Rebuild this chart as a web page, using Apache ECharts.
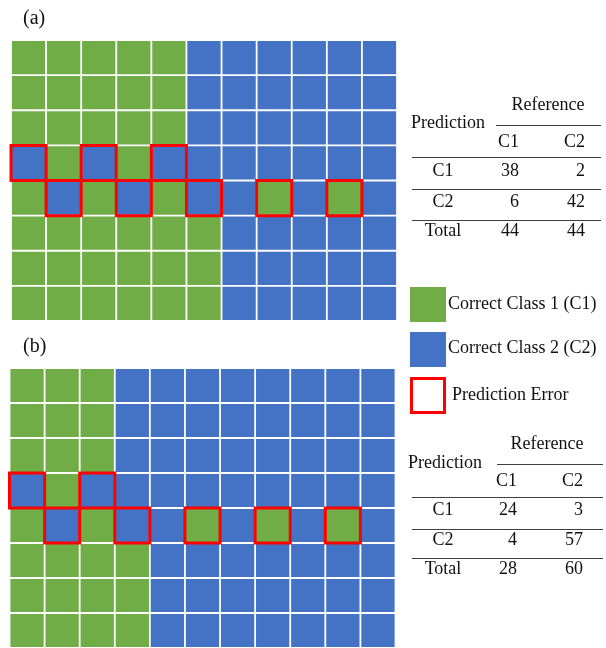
<!DOCTYPE html>
<html>
<head>
<meta charset="utf-8">
<script src="https://cdn.jsdelivr.net/npm/echarts@6/dist/echarts.min.js"></script>
<style>
html,body{margin:0;padding:0;background:#fff;}
#chart{width:606px;height:648px;}
</style>
</head>
<body>
<div id="chart"></div>
<script>
// ---- data ----
// 1 = Class 1 (green), 2 = Class 2 (blue); rows top to bottom, 11 columns
const gridA = [
  [1,1,1,1,1,2,2,2,2,2,2],
  [1,1,1,1,1,2,2,2,2,2,2],
  [1,1,1,1,1,2,2,2,2,2,2],
  [2,1,2,1,2,2,2,2,2,2,2],
  [1,2,1,2,1,2,2,1,2,1,2],
  [1,1,1,1,1,1,2,2,2,2,2],
  [1,1,1,1,1,1,2,2,2,2,2],
  [1,1,1,1,1,1,2,2,2,2,2]
];
const errorsA = [[0,3],[2,3],[4,3],[1,4],[3,4],[5,4],[7,4],[9,4]];
const gridB = [
  [1,1,1,2,2,2,2,2,2,2,2],
  [1,1,1,2,2,2,2,2,2,2,2],
  [1,1,1,2,2,2,2,2,2,2,2],
  [2,1,2,2,2,2,2,2,2,2,2],
  [1,2,1,2,2,1,2,1,2,1,2],
  [1,1,1,1,2,2,2,2,2,2,2],
  [1,1,1,1,2,2,2,2,2,2,2],
  [1,1,1,1,2,2,2,2,2,2,2]
];
const errorsB = [[0,3],[2,3],[1,4],[3,4],[5,4],[7,4],[9,4]];
const tableA = [[38,2],[6,42]];
const totalsA = [44,44];
const tableB = [[24,3],[4,57]];
const totalsB = [28,60];
const colLabels = ['C1','C2'];
const rowLabels = ['C1','C2','Total'];
const legendLabels = ['Correct Class 1 (C1)','Correct Class 2 (C2)','Prediction Error'];
const panelLabels = ['(a)','(b)'];
const xCats = ['0','1','2','3','4','5','6','7','8','9','10'];
const yCats = ['0','1','2','3','4','5','6','7'];

// ---- styles ----
const GREEN = '#70AD47', BLUE = '#4472C4', RED = '#FF0000';
const FONT = '"Liberation Serif", "Times New Roman", serif';
const TXT = '#111';

function cellData(g){
  const out = [];
  g.forEach((row, r) => row.forEach((v, c) => out.push([c, r, v])));
  return out;
}
function renderCell(params, api){
  const p = api.coord([api.value(0), api.value(1)]);
  const s = api.size([1, 1]);
  const gap = 0.9;
  return {
    type: 'rect',
    shape: {x: p[0]-s[0]/2+gap, y: p[1]-s[1]/2+gap, width: s[0]-2*gap, height: s[1]-2*gap},
    style: {fill: api.value(2) === 1 ? GREEN : BLUE}
  };
}
function renderErr(params, api){
  const p = api.coord([api.value(0), api.value(1)]);
  const s = api.size([1, 1]);
  return {
    type: 'rect',
    shape: {x: p[0]-s[0]/2, y: p[1]-s[1]/2, width: s[0], height: s[1]},
    style: {fill: 'none', stroke: RED, lineWidth: 3}
  };
}

function txt(text, x, y, align, size){
  return {type:'text', x:x, y:y, silent:true,
    style:{text:text, fontSize:size||18, fontFamily:FONT, fill:TXT, textAlign:align||'left', textVerticalAlign:'middle'}};
}
function hline(x1, x2, y){
  return {type:'line', silent:true, shape:{x1:x1, y1:y, x2:x2, y2:y}, style:{stroke:'#404040', lineWidth:1.2}};
}
function table(t, totals, o){
  const els = [];
  els.push(txt('Reference', o.refX, o.refY, 'center'));
  els.push(hline(o.refL, o.right, o.refLineY));
  els.push(txt('Prediction', o.predX, o.predY, 'left'));
  els.push(txt(colLabels[0], o.c1, o.hdrY, 'right'));
  els.push(txt(colLabels[1], o.c2, o.hdrY, 'right'));
  els.push(hline(o.left, o.right, o.lines[0]));
  const rows = [t[0], t[1], totals];
  rows.forEach((r, i) => {
    els.push(txt(rowLabels[i], o.labX, o.rowY[i], 'center'));
    els.push(txt(String(r[0]), o.c1, o.rowY[i], 'right'));
    els.push(txt(String(r[1]), o.c2, o.rowY[i], 'right'));
  });
  els.push(hline(o.left, o.right, o.lines[1]));
  els.push(hline(o.left, o.right, o.lines[2]));
  return els;
}

const graphics = [];
graphics.push(txt(panelLabels[0], 23, 19, 'left', 20));
graphics.push(txt(panelLabels[1], 23, 347, 'left', 20));
graphics.push(...table(tableA, totalsA, {
  refX:548, refY:105, refL:496, refLineY:125.5, right:601, left:412,
  predX:411, predY:123, c1:519, c2:585, hdrY:142, labX:443,
  rowY:[171,202,231], lines:[157.5,189.5,220.5]
}));
graphics.push(...table(tableB, totalsB, {
  refX:547, refY:444, refL:497, refLineY:464.5, right:603, left:412,
  predX:408, predY:463, c1:517, c2:583, hdrY:481, labX:443,
  rowY:[510,540,569], lines:[497.5,529.5,558.5]
}));
// legend
graphics.push({type:'rect', silent:true, shape:{x:410, y:287, width:36, height:35}, style:{fill:GREEN}});
graphics.push(txt(legendLabels[0], 448, 304));
graphics.push({type:'rect', silent:true, shape:{x:410, y:332, width:36, height:35}, style:{fill:BLUE}});
graphics.push(txt(legendLabels[1], 448, 348));
graphics.push({type:'rect', silent:true, shape:{x:411.5, y:378.5, width:33, height:34}, style:{fill:'#fff', stroke:RED, lineWidth:3}});
graphics.push(txt(legendLabels[2], 452, 395));

const hiddenAxis = {show:false};
const chart = echarts.init(document.getElementById('chart'), null, {renderer:'canvas'});
chart.setOption({
  backgroundColor:'#fff',
  animation:false,
  grid:[
    {left:11, top:40, width:386, height:281},
    {left:9.5, top:368, width:386, height:281}
  ],
  xAxis:[
    {type:'category', data:xCats, gridIndex:0, show:false},
    {type:'category', data:xCats, gridIndex:1, show:false}
  ],
  yAxis:[
    {type:'category', data:yCats, gridIndex:0, inverse:true, show:false},
    {type:'category', data:yCats, gridIndex:1, inverse:true, show:false}
  ],
  series:[
    {type:'custom', xAxisIndex:0, yAxisIndex:0, renderItem:renderCell, data:cellData(gridA), encode:{x:0,y:1}, z:2},
    {type:'custom', xAxisIndex:0, yAxisIndex:0, renderItem:renderErr, data:errorsA, encode:{x:0,y:1}, z:3},
    {type:'custom', xAxisIndex:1, yAxisIndex:1, renderItem:renderCell, data:cellData(gridB), encode:{x:0,y:1}, z:2},
    {type:'custom', xAxisIndex:1, yAxisIndex:1, renderItem:renderErr, data:errorsB, encode:{x:0,y:1}, z:3}
  ],
  graphic:{elements:graphics}
});
</script>
</body>
</html>
